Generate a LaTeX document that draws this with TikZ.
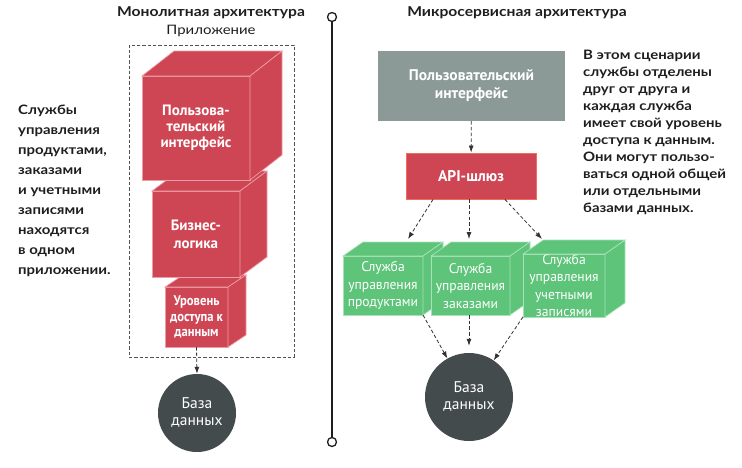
\documentclass[tikz,border=0pt]{standalone}
\usepackage{fontspec}
\setmainfont{Lato}
\newfontfamily\sidefont[FakeStretch=1.15]{Lato}
\newfontfamily\boxfont{PT Sans}
\newfontfamily\condfont[FakeStretch=0.9]{PT Sans}
\newfontfamily\svcfont[FakeStretch=0.97]{PT Sans}
\usetikzlibrary{arrows.meta}
\definecolor{cubered}{HTML}{CE4654}
\definecolor{rededge}{HTML}{EC9CA4}
\definecolor{uigray}{HTML}{8B9A96}
\definecolor{svcgreen}{HTML}{5EC47A}
\definecolor{greenedge}{HTML}{A8E2B8}
\definecolor{dbdark}{HTML}{434B4D}
\definecolor{apiborder}{HTML}{F26B5B}
\definecolor{linegray}{HTML}{333333}
\definecolor{inkc}{HTML}{1E1E1E}
\newcommand{\cubefaces}[4]{%
  \path[#4] (#1.north west) -- ([shift={(#2,#3)}]#1.north west) -- ([shift={(#2,#3)}]#1.north east) -- (#1.north east) -- cycle;
  \path[#4] (#1.north east) -- ([shift={(#2,#3)}]#1.north east) -- ([shift={(#2,#3)}]#1.south east) -- (#1.south east) -- cycle;
}
\tikzset{
  redface/.style={draw=rededge, line width=0.7pt, fill=cubered},
  greenface/.style={draw=greenedge, line width=0.7pt, fill=svcgreen},
  redcube/.style={redface, outer sep=0pt, inner sep=0pt, text=white, align=center,
    font=\boxfont\bfseries\fontsize{15}{16}\selectfont},
  greencube/.style={greenface, outer sep=0pt, inner sep=0pt, text=white, align=center,
    font=\svcfont\fontsize{14}{17.5}\selectfont},
  dbcircle/.style={circle, fill=dbdark, inner sep=0pt, text=white, align=center,
    font=\boxfont\fontsize{15.5}{17}\selectfont},
  conn/.style={draw=linegray, line width=0.8pt, dash pattern=on 3.5pt off 2.2pt,
    -{Latex[length=7pt,width=5pt]}},
  sidetext/.style={inner sep=0pt, align=left, text=inkc, anchor=north west},
  title/.style={inner sep=0pt, text=inkc, font=\sidefont\bfseries\fontsize{13.6}{16}\selectfont},
  divider/.style={draw=inkc, line width=1.3pt},
}
\begin{document}
\begin{tikzpicture}[x=1pt,y=-1pt]
\useasboundingbox (0,0) rectangle (742,467);

% ---------- Left: monolith ----------
\node[title] (t1) at (211,13) {Монолитная архитектура};
\node[inner sep=0pt, text=inkc, font=\sidefont\fontsize{13}{16}\selectfont] (applabel) at (211,31) {Приложение};
\node[draw=linegray!85, line width=0.8pt, dash pattern=on 3.3pt off 2pt, minimum width=165pt, minimum height=312pt, inner sep=0pt] (app) at (211.5,201) {};

\node[redcube, minimum width=63pt, minimum height=60pt, font=\condfont\bfseries\fontsize{14}{15.5}\selectfont] (c3) at (196.5,317) {Уровень\\доступа к\\данным};
\cubefaces{c3}{18}{-12}{redface}
\node[redcube, minimum width=88pt, minimum height=86pt, font=\boxfont\bfseries\fontsize{15}{18}\selectfont] (c2) at (196,234) {Бизнес-\\логика};
\cubefaces{c2}{27}{-20}{redface}
\node[redcube, minimum width=108pt, minimum height=104pt] (c1) at (196,128) {Пользова-\\тельский\\интерфейс};
\cubefaces{c1}{32}{-25}{redface}

\node[dbcircle, minimum size=78pt] (db1) at (197,413) {База\\данных};
\draw[conn] (c3.south) -- (db1.north);

\node[sidetext, font=\sidefont\bfseries\fontsize{13}{20}\selectfont] (lefttext) at (18,105) {Службы\\управления\\продуктами,\\заказами\\и учетными\\записями\\находятся\\в одном\\приложении.};

% ---------- Divider ----------
\node[circle, divider, minimum size=9pt, inner sep=0pt] (dtop) at (332,17) {};
\node[circle, divider, minimum size=9pt, inner sep=0pt] (dbot) at (332,442) {};
\draw[divider] (dtop) -- (dbot);

% ---------- Right: microservices ----------
\node[title] (t2) at (517,13) {Микросервисная архитектура};

\node[fill=uigray, minimum width=187pt, minimum height=70pt, inner sep=0pt, text=white, align=center,
  font=\boxfont\bfseries\fontsize{15.5}{18}\selectfont] (ui) at (471.5,86) {Пользовательский\\интерфейс};
\node[fill=cubered, draw=apiborder, line width=0.9pt, minimum width=130pt, minimum height=46pt, inner sep=0pt, text=white,
  font=\boxfont\bfseries\fontsize{15.5}{18}\selectfont] (api) at (471,176) {API-шлюз};
\draw[conn] (ui) -- (api);

\node[greencube, minimum width=80pt, minimum height=59pt] (g1) at (383,285.5) {Служба\\управления\\продуктами};
\cubefaces{g1}{20}{-14}{greenface}
\node[greencube, minimum width=79pt, minimum height=59pt] (g2) at (470.5,285.5) {Служба\\управления\\заказами};
\cubefaces{g2}{20}{-14}{greenface}
\node[greencube, minimum width=82pt, minimum height=59pt] (g3) at (564,285.5) {Служба\\управления\\учетными\\записями};
\cubefaces{g3}{20}{-14}{greenface}

\coordinate (g1in) at (408,239);
\coordinate (g2in) at (469,239);
\coordinate (g3in) at (542,239);
\draw[conn] ([xshift=-38pt]api.south) -- (g1in);
\draw[conn] ([xshift=-2pt]api.south) -- (g2in);
\draw[conn] ([xshift=34pt]api.south) -- (g3in);

\node[dbcircle, minimum size=88pt] (db2) at (469,397) {База\\данных};
\draw[conn] (g1.south east) -- (db2);
\draw[conn, shorten >=7pt] (g2.south -| db2.north) -- (db2.north);
\draw[conn] (g3.south west) -- (db2);

\node[sidetext, font=\sidefont\bfseries\fontsize{13}{17}\selectfont] (righttext) at (583,50) {В этом сценарии\\службы отделены\\друг от друга и\\каждая служба\\имеет свой уровень\\доступа к данным.\\Они могут пользо-\\ваться одной общей\\или отдельными\\базами данных.};
\end{tikzpicture}
\end{document}
